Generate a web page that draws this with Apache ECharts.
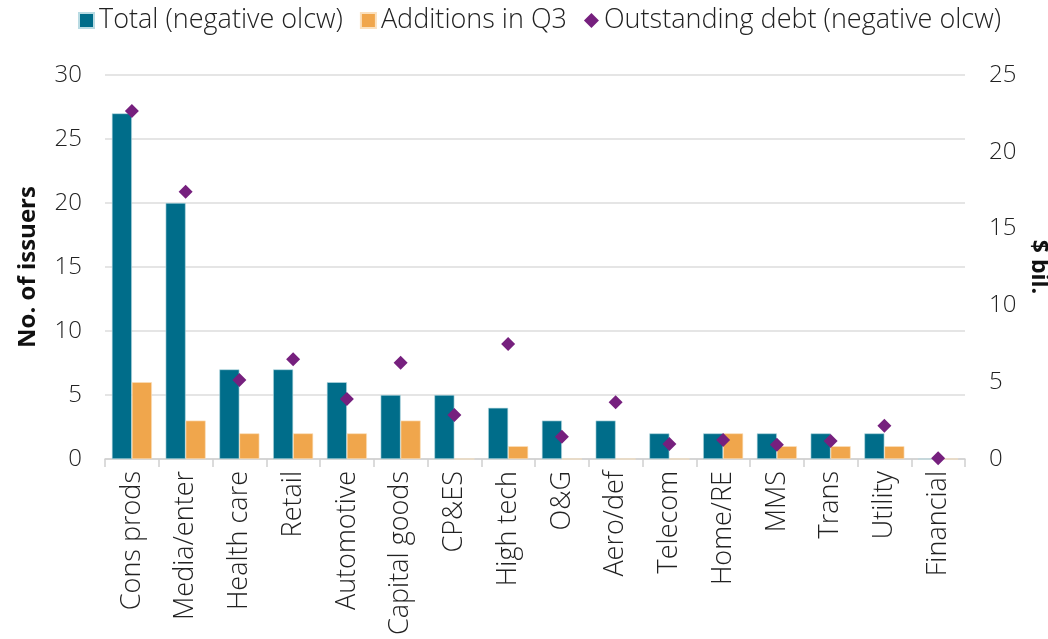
<!DOCTYPE html>
<html>
<head>
<meta charset="utf-8">
<script src="https://cdn.jsdelivr.net/npm/echarts@6/dist/echarts.min.js"></script>
<style>
  html, body { margin: 0; padding: 0; background: #fff; }
  #chart { width: 1048px; height: 639px; }
</style>
</head>
<body>
<div id="chart"></div>
<script>
// Data
const sectors = ["Cons prods", "Media/enter", "Health care", "Retail", "Automotive", "Capital goods", "CP&ES", "High tech", "O&G", "Aero/def", "Telecom", "Home/RE", "MMS", "Trans", "Utility", "Financial"];
const totals = [27, 20, 7, 7, 6, 5, 5, 4, 3, 3, 2, 2, 2, 2, 2, 0];
const additions = [6, 3, 2, 2, 2, 3, 0, 1, 0, 0, 0, 2, 1, 1, 1, 0];
const debt = [22.65, 17.4, 5.15, 6.5, 3.9, 6.27, 2.86, 7.49, 1.45, 3.69, 0.98, 1.24, 0.93, 1.17, 2.17, 0.05];

const chart = echarts.init(document.getElementById("chart"));
const font = "Open Sans";

const option = {
  animation: false,
  textStyle: { fontFamily: font },
  // Legend across the top
  legend: {
    top: 2,
    left: 73,
    itemGap: 17,
    itemWidth: 15,
    itemHeight: 15,
    textStyle: { fontSize: 27, color: "#222", fontWeight: 300, fontFamily: font },
    data: [
      { name: "Total (negative olcw)", icon: "rect" },
      { name: "Additions in Q3", icon: "rect" },
      { name: "Outstanding debt (negative olcw)", icon: "diamond", itemStyle: { color: "#76207e" } },
    ],
  },
  grid: { left: 105, right: 83, top: 75, bottom: 180, outerBoundsMode: "none" },
  xAxis: {
    type: "category",
    data: sectors,
    axisLine: { lineStyle: { color: "#d0d0d0", width: 1.5 } },
    axisTick: { show: true, length: 8, lineStyle: { color: "#d0d0d0", width: 1.5 } },
    axisLabel: { rotate: 90, fontSize: 27, color: "#222", margin: 12, fontWeight: 300, interval: 0 },
  },
  yAxis: [
    {
      type: "value",
      min: 0,
      max: 30,
      interval: 5,
      name: "No. of issuers",
      nameLocation: "middle",
      nameGap: 65,
      nameTextStyle: { fontSize: 24, fontWeight: "bold", color: "#111" },
      axisLabel: { fontSize: 24, color: "#222", margin: 23, fontWeight: 300 },
      splitLine: { lineStyle: { color: "#dcdcdc", width: 1.5 } },
    },
    {
      type: "value",
      min: 0,
      max: 25,
      interval: 5,
      name: "$ bil.",
      nameLocation: "middle",
      nameGap: 58,
      nameRotate: -90,
      nameTextStyle: { fontSize: 23, fontWeight: "bold", color: "#111" },
      axisLabel: { fontSize: 24, color: "#222", margin: 24, fontWeight: 300 },
      splitLine: { show: false },
    },
  ],
  series: [
    {
      name: "Total (negative olcw)",
      type: "bar",
      data: totals,
      barWidth: 20,
      barGap: "0%",
      itemStyle: { color: "#006d8a", borderColor: "#b9dbe3", borderWidth: 0.6 },
    },
    {
      name: "Additions in Q3",
      type: "bar",
      data: additions,
      barWidth: 20,
      itemStyle: { color: "#f0a64c", borderColor: "#fbe0bd", borderWidth: 0.6 },
    },
    {
      name: "Outstanding debt (negative olcw)",
      type: "scatter",
      yAxisIndex: 1,
      data: debt,
      symbol: "diamond",
      symbolSize: 14,
      itemStyle: { color: "#76207e", opacity: 1 },
      z: 5,
    },
  ],
};

chart.setOption(option);
</script>
</body>
</html>
